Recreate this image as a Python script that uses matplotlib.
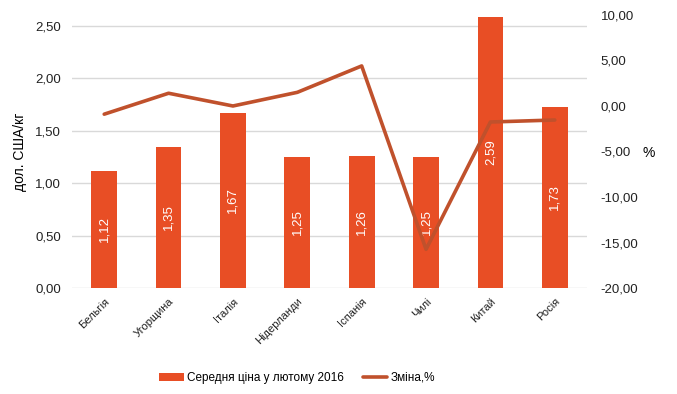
#!/usr/bin/env python3

import matplotlib
matplotlib.use("Agg")
import matplotlib.pyplot as plt
from matplotlib.ticker import FuncFormatter

plt.rcParams["font.family"] = ["Liberation Sans", "DejaVu Sans"]

countries = ["Бельгія", "Угорщина", "Італія", "Нідерланди", "Іспанія", "Чилі", "Китай", "Росія"]
avg_price = [1.12, 1.35, 1.67, 1.25, 1.26, 1.25, 2.59, 1.73]
change_pct = [-0.9, 1.4, 0.0, 1.5, 4.4, -15.75, -1.76, -1.54]

bar_color = "#E84E25"
line_color = "#C0512C"


def comma_fmt(value, _pos):
    return f"{value:.2f}".replace(".", ",")


fig = plt.figure(figsize=(6.77, 3.94), dpi=100)
ax = fig.add_axes([0.1064, 0.269, 0.7606, 0.693])
ax2 = ax.twinx()

x = range(len(countries))
bars = ax.bar(x, avg_price, width=0.4, color=bar_color, zorder=2,
              label="Середня ціна у лютому 2016")
for xi, val in zip(x, avg_price):
    ax.text(xi, val / 2, comma_fmt(val, None), rotation=90, color="white",
            ha="center", va="center", fontsize=9.5, zorder=3)

line, = ax2.plot(x, change_pct, color=line_color, linewidth=2.6,
                 solid_capstyle="round", label="Зміна,%")

ax.set_xlim(-0.5, len(countries) - 0.5)
ax.set_ylim(0, 2.5 * 273 / 262)
ax.set_yticks([0, 0.5, 1.0, 1.5, 2.0, 2.5])
ax.yaxis.set_major_formatter(FuncFormatter(comma_fmt))
ax.grid(axis="y", color="#D9D9D9", linewidth=1, zorder=0)
ax.set_axisbelow(True)

ax2.set_ylim(-20, 10)
ax2.set_yticks([-20, -15, -10, -5, 0, 5, 10])
ax2.yaxis.set_major_formatter(FuncFormatter(comma_fmt))

for a in (ax, ax2):
    for spine in a.spines.values():
        spine.set_visible(False)
    a.tick_params(length=0, labelsize=9.5, colors="#222222")

ax.set_xticks(list(x))
ax.set_xticklabels(countries, rotation=45, ha="right", rotation_mode="anchor",
                   fontsize=8)
ax.tick_params(axis="x", pad=6)
ax.tick_params(axis="y", pad=8)
ax2.tick_params(axis="y", pad=10)

ax.set_ylabel("дол. США/кг", fontsize=10, labelpad=6)
fig.text(649 / 677, 1 - 153 / 394, "%", fontsize=10, ha="center", va="center")

fig.legend(handles=[bars, line], loc="center", ncol=2, frameon=False,
           bbox_to_anchor=(297 / 677, 1 - 378 / 394), fontsize=8.5,
           handlelength=2.1, columnspacing=1.6, handletextpad=0.25)

fig.savefig("out.png", dpi=100)
